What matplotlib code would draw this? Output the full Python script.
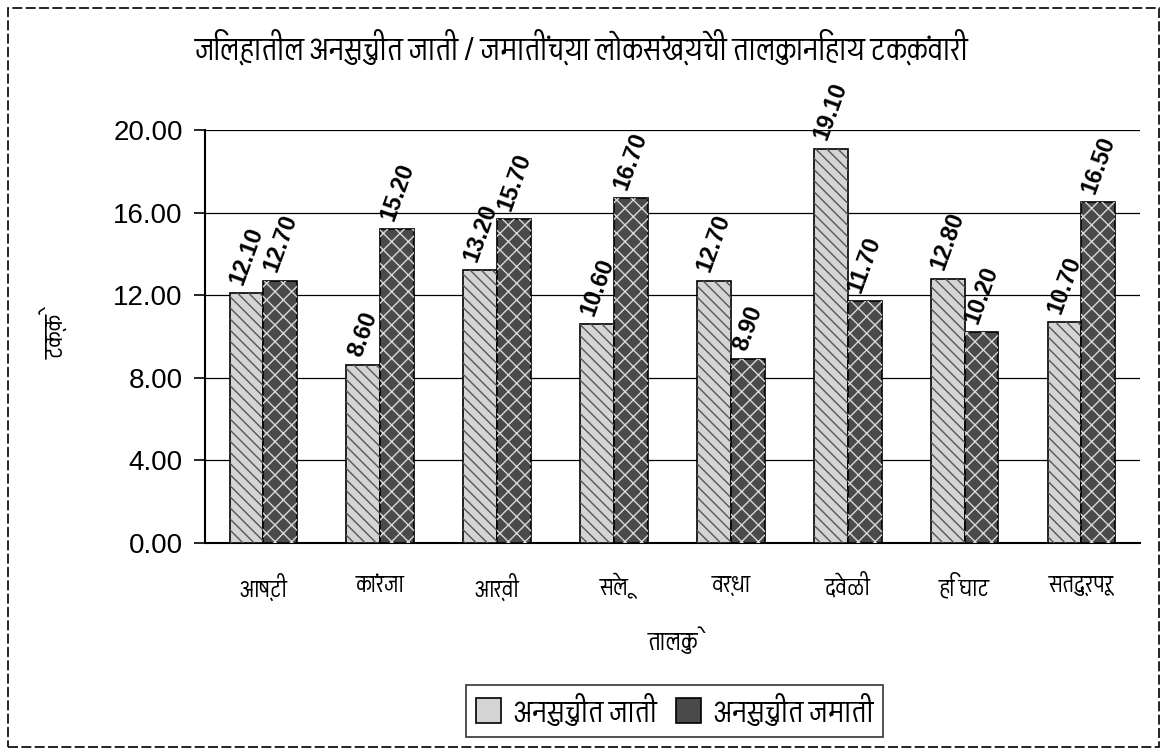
import matplotlib
matplotlib.use("Agg")
import matplotlib.pyplot as plt
from matplotlib import font_manager
from matplotlib.ft2font import FT2Font
from matplotlib.patches import Rectangle
import numpy as np

# ---- data ----
categories = ["आष्टी", "कांरजा", "आर्वी", "सेलू", "वर्धा", "देवळी", "हि घाट", "सतुद्रपूर"]
sc_values = [12.10, 8.60, 13.20, 10.60, 12.70, 19.10, 12.80, 10.70]
st_values = [12.70, 15.20, 15.70, 16.70, 8.90, 11.70, 10.20, 16.50]
series_names = ["अनुसुचीत जाती", "अनुसुचीत जमाती"]
title_text = "जिल्हातील अनुसुचीत जाती / जमातींच्या लोकसंख्येची तालुकानिहाय टक्कंवारी"
ylabel_text = "टक्के"
xlabel_text = "तालुके"
yticks = [0, 4, 8, 12, 16, 20]

# ---- find a font with Devanagari glyphs, if any ----
found = []
for fe in font_manager.fontManager.ttflist:
    try:
        cm = FT2Font(fe.fname).get_charmap()
        if 0x0915 in cm:
            found.append(fe.name)
    except Exception:
        pass
found = sorted(set(found))
deva_family = None
for pref in ["Akshar", "Noto Sans Devanagari", "Mukta", "Hind"]:
    if pref in found:
        deva_family = pref
        break
if deva_family is None and found:
    deva_family = found[0]
fam = ([deva_family] if deva_family else []) + ["Liberation Sans", "DejaVu Sans"]
num_fam = ["Liberation Sans", "DejaVu Sans"]
plt.rcParams['font.family'] = fam
plt.rcParams['hatch.linewidth'] = 1.0

fig = plt.figure(figsize=(11.67, 7.55), dpi=100)
ax = fig.add_axes([0.1757, 0.2808, 0.801, 0.547])

x = np.arange(len(categories))
w = 0.29
b1 = ax.bar(x - w/2, sc_values, w, facecolor="#d4d4d4", edgecolor="black", linewidth=1.2, zorder=3)
ax.bar(x - w/2, sc_values, w, facecolor="none", edgecolor="#555555", hatch="\\\\\\", linewidth=0, zorder=3.5)
b2 = ax.bar(x + w/2, st_values, w, facecolor="#4a4a4a", edgecolor="black", linewidth=1.2, zorder=3)
ax.bar(x + w/2, st_values, w, facecolor="none", edgecolor="#d8d8d8", hatch="xx", linewidth=0, zorder=3.5)

for xi, v in zip(x - w/2, sc_values):
    ax.annotate(f"{v:.2f}", (xi, v), xytext=(0, 4), textcoords="offset points",
                ha="center", va="bottom", rotation=70, fontsize=17, fontweight="bold",
                family=num_fam, zorder=5)
for xi, v in zip(x + w/2, st_values):
    ax.annotate(f"{v:.2f}", (xi, v), xytext=(0, 4), textcoords="offset points",
                ha="center", va="bottom", rotation=70, fontsize=17, fontweight="bold",
                family=num_fam, zorder=5)

ax.set_xlim(-0.5, len(categories) - 0.5)
ax.set_ylim(0, 20)
ax.set_yticks(yticks)
ax.set_yticklabels([f"{t:.2f}" for t in yticks], family=num_fam, fontsize=20)
ax.set_xticks(x)
ax.set_xticklabels(categories, fontsize=18)
ax.tick_params(axis="x", length=0, pad=22)
ax.tick_params(axis="y", length=8, width=1.2, direction="out", pad=8)
ax.yaxis.grid(True, color="black", linewidth=0.9, zorder=0)
ax.set_axisbelow(True)
for s in ["top", "right"]:
    ax.spines[s].set_visible(False)
ax.spines["left"].set_linewidth(1.5)
ax.spines["bottom"].set_linewidth(1.5)

ax.set_ylabel(ylabel_text, fontsize=19, labelpad=32)
ax.set_xlabel(xlabel_text, fontsize=19, labelpad=18)

fig.text(0.167, 0.937, title_text, fontsize=24, ha="left", va="center")

leg = ax.legend([b1, b2], series_names, loc="center", bbox_to_anchor=(0.578, 0.058),
                bbox_transform=fig.transFigure, ncol=2, frameon=True, fontsize=23,
                handlelength=0.8, handleheight=0.8, handletextpad=0.4, columnspacing=0.6,
                borderpad=0.3, fancybox=False, edgecolor="black")
leg.get_frame().set_linewidth(1.2)

fig.patches.append(Rectangle((0.007, 0.01), 0.986, 0.98, transform=fig.transFigure,
                             fill=False, edgecolor="black", linewidth=1.2, linestyle=(0, (6, 2))))

fig.savefig("out.png", dpi=100)
